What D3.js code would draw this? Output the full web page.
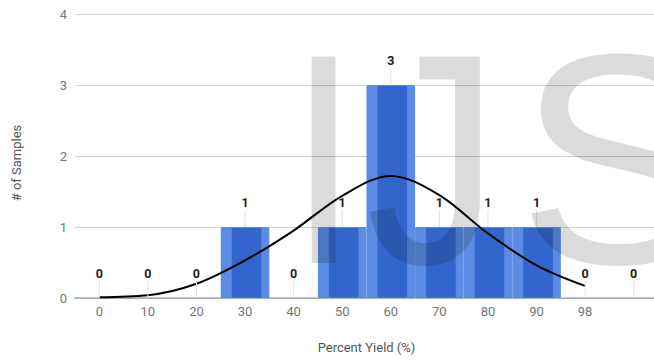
<!DOCTYPE html>
<html>
<head>
<meta charset="utf-8">
<script src="https://cdn.jsdelivr.net/npm/d3@7/dist/d3.min.js"></script>
<style>
  html, body { margin: 0; padding: 0; background: #fff; }
  svg { display: block; font-family: Roboto, "Noto Sans", Arial, sans-serif; }
</style>
</head>
<body>
<svg id="chart" width="654" height="360"></svg>
<script>
// Histogram bins (percent yield) and sample counts per bin
const bins = ["0", "10", "20", "30", "40", "50", "60", "70", "80", "90", "98", ""];
const counts = [0, 0, 0, 1, 0, 1, 3, 1, 1, 1, 0, 0];
// Fitted normal curve evaluated at each labelled bin
const curveBins = ["0", "10", "20", "30", "40", "50", "60", "70", "80", "90", "98"];
const curveValues = [0.01, 0.04, 0.2, 0.53, 0.95, 1.44, 1.72, 1.45, 0.91, 0.46, 0.17];
const yTicks = [0, 1, 2, 3, 4];

const svg = d3.select("#chart");
const plotLeft = 75, plotRight = 658, plotTop = 14, plotBottom = 298;

const x = d3.scaleBand().domain(bins).range([plotLeft, plotRight]).padding(0);
const y = d3.scaleLinear().domain([0, 4]).range([plotBottom, plotTop]);

// horizontal gridlines + y tick labels
const yAxis = svg.append("g")
  .attr("transform", `translate(${plotLeft},0)`)
  .call(d3.axisLeft(y).tickValues(yTicks).tickFormat(d3.format("d"))
    .tickSize(-(654 - plotLeft)).tickPadding(8));
yAxis.select(".domain").remove();
yAxis.selectAll(".tick line").attr("stroke", "#d4d4d4");
yAxis.selectAll(".tick text").attr("fill", "#757575").attr("font-size", 13)
  .attr("font-family", "Roboto, sans-serif");

// bars: light body with a darker inner column
const barData = bins.map((b, i) => ({ bin: b, v: counts[i] })).filter(d => d.v > 0);
const bars = svg.append("g");
bars.selectAll("rect.outer").data(barData).join("rect")
  .attr("class", "outer")
  .attr("x", d => x(d.bin))
  .attr("y", d => y(d.v))
  .attr("width", x.bandwidth())
  .attr("height", d => y(0) - y(d.v))
  .attr("rx", 1.5)
  .attr("fill", "#5b8be2");
bars.selectAll("rect.inner").data(barData).join("rect")
  .attr("class", "inner")
  .attr("x", d => x(d.bin) + 11)
  .attr("y", d => y(d.v) + 1)
  .attr("width", x.bandwidth() - 19)
  .attr("height", d => y(0) - y(d.v) - 1)
  .attr("fill", "#3366cc");

// baseline
svg.append("line")
  .attr("x1", plotLeft - 1).attr("x2", 654)
  .attr("y1", y(0)).attr("y2", y(0))
  .attr("stroke", "#6d86b4").attr("stroke-width", 1.2);

// x tick labels
const xAxis = svg.append("g")
  .attr("transform", `translate(0,${plotBottom})`)
  .call(d3.axisBottom(x).tickSize(0).tickPadding(9));
xAxis.select(".domain").remove();
xAxis.selectAll(".tick text").attr("fill", "#757575").attr("font-size", 13)
  .attr("font-family", "Roboto, sans-serif");

// fitted curve
const line = d3.line()
  .x((d, i) => x(curveBins[i]) + x.bandwidth() / 2)
  .y(d => y(d))
  .curve(d3.curveMonotoneX);
svg.append("path")
  .datum(curveValues)
  .attr("d", line)
  .attr("fill", "none")
  .attr("stroke", "#000")
  .attr("stroke-width", 2);

// value annotations with leader lines
const ann = svg.append("g");
const annData = bins.map((b, i) => ({ bin: b, v: counts[i] }));
ann.selectAll("line").data(annData).join("line")
  .attr("x1", d => x(d.bin) + x.bandwidth() / 2)
  .attr("x2", d => x(d.bin) + x.bandwidth() / 2)
  .attr("y1", d => y(d.v) - 17)
  .attr("y2", d => y(d.v))
  .attr("stroke", "#e0e0e0").attr("stroke-width", 1);
ann.selectAll("text").data(annData).join("text")
  .attr("x", d => x(d.bin) + x.bandwidth() / 2)
  .attr("y", d => y(d.v) - 20)
  .attr("text-anchor", "middle")
  .attr("font-size", 12.5)
  .attr("font-weight", "bold")
  .attr("fill", "#222")
  .attr("font-family", "Roboto, sans-serif")
  .text(d => d.v);

// axis titles
svg.append("text")
  .attr("x", (plotLeft + plotRight) / 2).attr("y", 352)
  .attr("text-anchor", "middle")
  .attr("font-size", 13).attr("fill", "#555")
  .attr("font-family", "Roboto, sans-serif")
  .text("Percent Yield (%)");
svg.append("text")
  .attr("transform", "translate(21,163) rotate(-90)")
  .attr("text-anchor", "middle")
  .attr("font-size", 13).attr("fill", "#555")
  .attr("font-family", "Roboto, sans-serif")
  .text("# of Samples");

// translucent watermark letters over the plot, placed by their ink extents
const wmFont = "Liberation Sans";
const ctx = document.createElement("canvas").getContext("2d");
ctx.font = `100px "${wmFont}"`;
const capH = ctx.measureText("I").actualBoundingBoxAscent || 71.6;
const wmSize = 207 / capH * 100;
ctx.font = `${wmSize}px "${wmFont}"`;
const wmBaseline = 263;
const wmLetters = [
  { ch: "I", left: 308, right: 336 },
  { ch: "J", left: 370, right: 483 },
  { ch: "S", left: 527, right: null }
];
const wm = svg.append("g").attr("pointer-events", "none");
wmLetters.forEach(L => {
  const m = ctx.measureText(L.ch);
  const inkL = m.actualBoundingBoxLeft || 0;
  const inkW = (m.actualBoundingBoxLeft + m.actualBoundingBoxRight) || 1;
  const sx = L.right ? (L.right - L.left) / inkW : 1;
  wm.append("text")
    .attr("transform", `translate(${L.left},${wmBaseline}) scale(${sx},1)`)
    .attr("x", inkL)
    .attr("font-family", `'${wmFont}', Arial, sans-serif`)
    .attr("font-size", wmSize)
    .attr("fill", "#000").attr("fill-opacity", 0.14)
    .text(L.ch);
});
</script>
</body>
</html>
